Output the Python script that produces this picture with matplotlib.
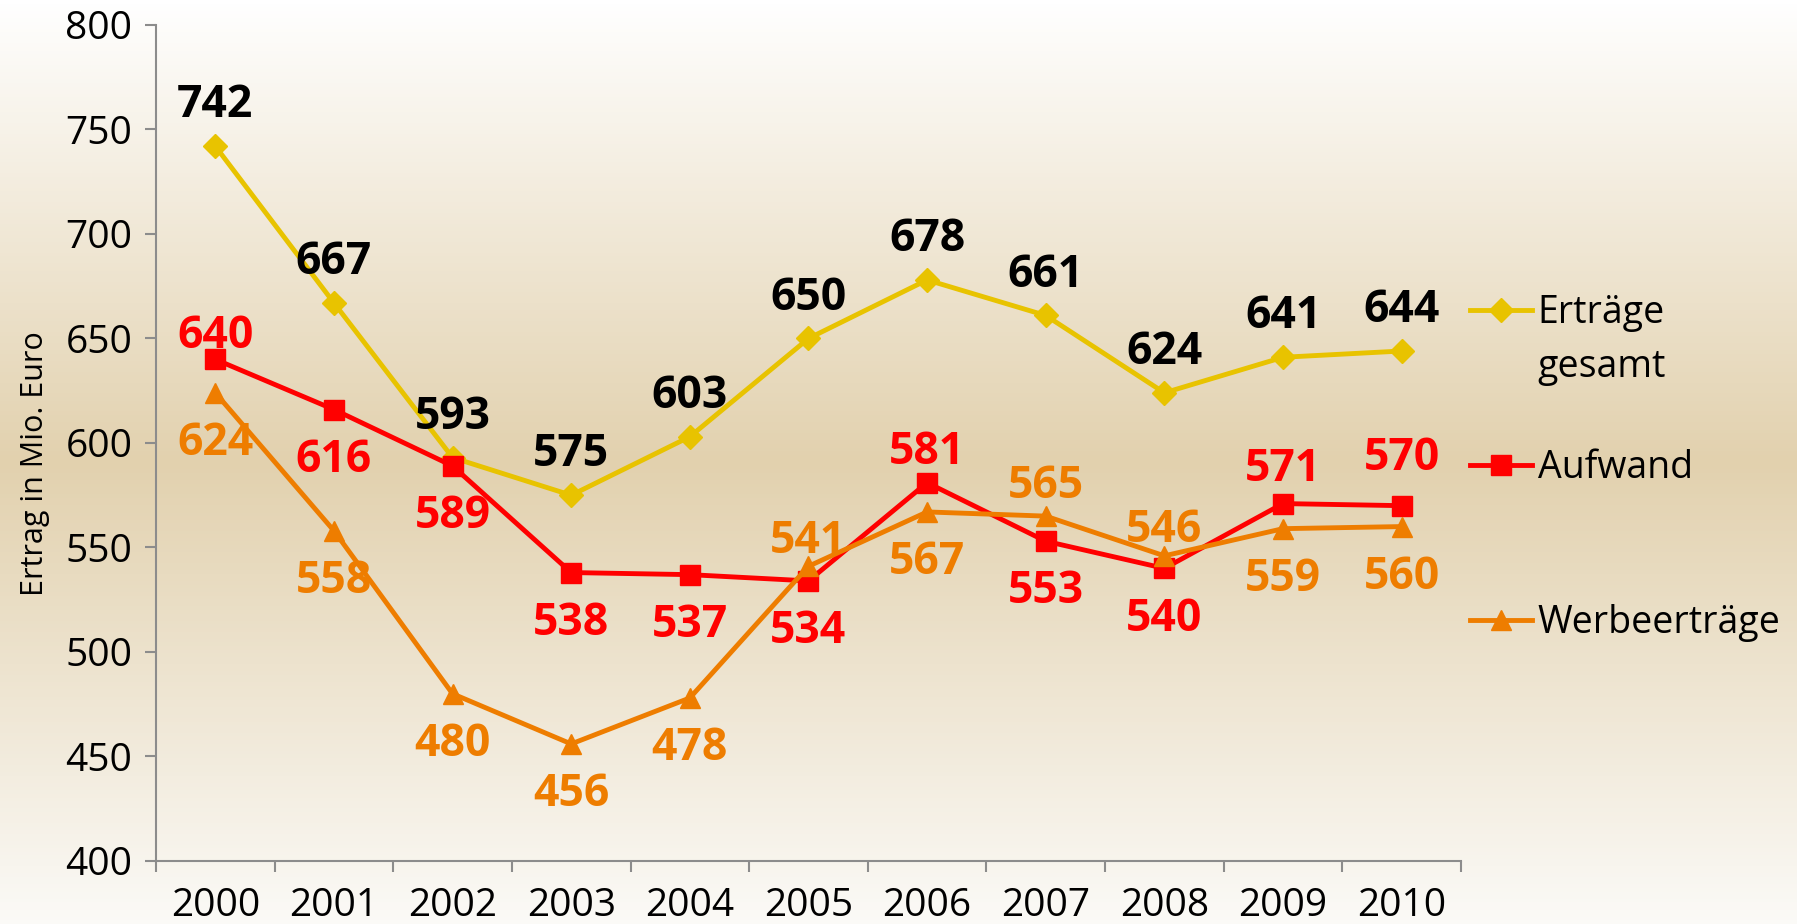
import numpy as np
import matplotlib
matplotlib.use("Agg")
import matplotlib.pyplot as plt
from matplotlib.colors import LinearSegmentedColormap

plt.rcParams['font.family'] = ['Open Sans', 'DejaVu Sans']

years = ["2000", "2001", "2002", "2003", "2004", "2005", "2006", "2007", "2008", "2009", "2010"]
ertraege = [742, 667, 593, 575, 603, 650, 678, 661, 624, 641, 644]
aufwand = [640, 616, 589, 538, 537, 534, 581, 553, 540, 571, 570]
werbe = [624, 558, 480, 456, 478, 541, 567, 565, 546, 559, 560]

# vertical label offsets in points (positive = above the marker)
ertraege_off = [29] * 11
aufwand_off = [16.5, -36.5, -36.5, -36.5, -36.5, -36.5, 22, -36.5, -36.5, 24.5, 34]
werbe_off = [-36.5, -36.5, -36.5, -36.5, -36.5, 17.5, -36.5, 21, 18, -36.5, -36.5]

YELLOW = "#E8C300"
RED = "#FF0000"
ORANGE = "#EE7D00"

fig = plt.figure(figsize=(17.97, 9.24), dpi=100)

# background gradient: light at top and bottom, tan in the middle
bg = fig.add_axes([0, 0, 1, 1], zorder=-1)
cmap = LinearSegmentedColormap.from_list(
    "bg", [(0, "#FFFFFF"), (0.5, "#E2D1AE"), (1, "#FBFAF7")])
grad = np.linspace(0, 1, 256).reshape(-1, 1)
bg.imshow(grad, aspect="auto", cmap=cmap, extent=[0, 1, 0, 1])
bg.axis("off")

ax = fig.add_axes([0.0868, 0.0682, 0.7262, 0.9048])
ax.patch.set_alpha(0)
x = np.arange(len(years))

ax.plot(x, ertraege, color=YELLOW, lw=3.5, marker="D", ms=12, label="Erträge", zorder=3)
ax.plot(x, aufwand, color=RED, lw=3.5, marker="s", ms=14, label="Aufwand", zorder=4)
ax.plot(x, werbe, color=ORANGE, lw=3.5, marker="^", ms=14, label="Werbeerträge", zorder=5)

lbl = dict(ha="center", va="center", fontsize=32, fontweight="bold", textcoords="offset points")
for vals, offs, col in [(ertraege, ertraege_off, "black"),
                        (aufwand, aufwand_off, RED),
                        (werbe, werbe_off, ORANGE)]:
    for i, v in enumerate(vals):
        ax.annotate(str(v), (x[i], v), xytext=(0, offs[i]), color=col, **lbl)

ax.set_xlim(-0.5, len(years) - 0.5)
ax.set_ylim(400, 800)
ax.set_yticks(range(400, 801, 50))
ax.set_xticks(x)
ax.set_xticklabels(years)
ax.set_xticks(np.arange(-0.5, len(years), 1), minor=True)

for s in ["top", "right"]:
    ax.spines[s].set_visible(False)
for s in ["left", "bottom"]:
    ax.spines[s].set_color("#8C8C8C")
    ax.spines[s].set_linewidth(1.5)

ax.tick_params(axis="y", length=8, width=1.5, color="#8C8C8C", pad=9, labelsize=28)
ax.tick_params(axis="x", which="major", length=0, pad=19, labelsize=28)
ax.tick_params(axis="x", which="minor", length=8, width=1.5, color="#8C8C8C")

ax.set_ylabel("Ertrag in Mio. Euro", fontsize=22)
ax.yaxis.set_label_coords(-0.081, 0.475)

leg = ax.legend(loc="center left", bbox_to_anchor=(1.0, 0.470), frameon=False,
                fontsize=27, handlelength=1.65, handletextpad=0.15,
                labelspacing=3.12, borderaxespad=0, borderpad=0.25)
# second line of the first legend entry, drawn after the legend
ax.annotate("gesamt", xy=(0, 0.5), xycoords=leg.get_texts()[0],
            xytext=(0, -39), textcoords="offset points",
            ha="left", va="center", fontsize=27, zorder=10)

fig.savefig("out.png", dpi=100)
